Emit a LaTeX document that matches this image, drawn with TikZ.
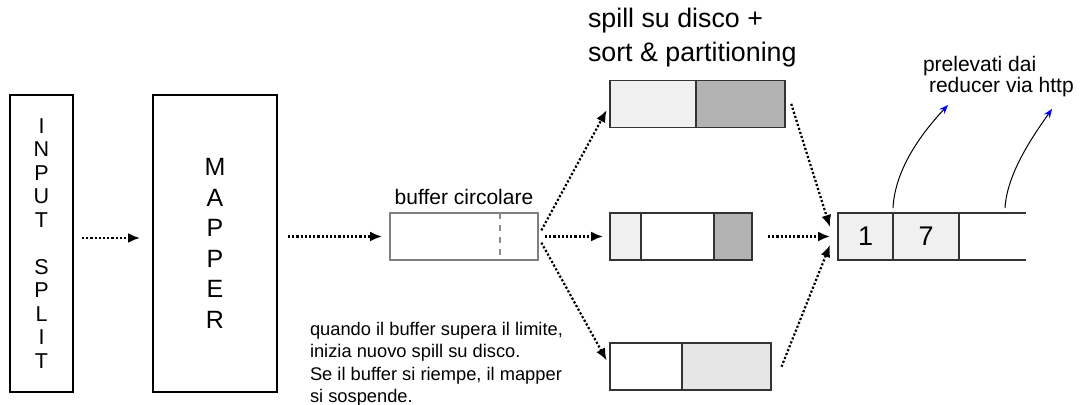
\documentclass[tikz,border=0pt]{standalone}
\usepackage{fontspec}
\setmainfont{Liberation Sans}
\usetikzlibrary{positioning,calc,arrows.meta}
\definecolor{cellpale}{HTML}{F0F0F0}
\definecolor{celldark}{HTML}{B3B3B3}
\definecolor{cellmid}{HTML}{E6E6E6}

\begin{document}
\begin{tikzpicture}[x=0.5pt,y=-0.5pt,
    box/.style={draw,line width=0.8pt,minimum height=148.5pt,inner sep=0pt,outer sep=0pt,align=center},
    cell/.style={draw=black!80,line width=0.75pt,minimum height=23.5pt,inner sep=0pt,outer sep=0pt},
    flow/.style={densely dotted,line width=1.1pt,-{Latex[length=6pt,width=5pt]}},
    fetch/.style={line width=0.5pt,-{Stealth[length=4.5pt,width=3.5pt,blue]}},
    txt/.style={inner sep=0pt,outer sep=0pt}]
                    \useasboundingbox (0,0) rectangle (1082,405);
                    \node[box,minimum width=31.5pt,font=\fontsize{10.75}{11.75}\selectfont] (split) at (41.5,243.5) {I\\N\\P\\U\\T\\~\\S\\P\\L\\I\\T};
                    \node[box,minimum width=62pt,font=\fontsize{12.5}{15.25}\selectfont] (mapper) at (215,243.5) {M\\A\\P\\P\\E\\R};
                    \node[cell,draw=black!50,minimum width=74pt] (buf) at (464,236.5) {};
                    \draw[black!45,dashed,line width=0.75pt] ($(buf.north west)+(110,0)$) coordinate (cut) -- (cut |- buf.south);
                    \node[txt,anchor=base,font=\fontsize{10.5}{12}\selectfont] (buflab) at ([yshift=4pt]buf.north) {buffer circolare};
                    \node[cell,fill=cellpale,minimum width=43pt,anchor=west] (s1a) at (610,104) {};
                    \node[cell,fill=celldark,minimum width=44.5pt,right=0pt of s1a] (s1b) {};
                    \node[cell,fill=cellpale,minimum width=15.5pt,anchor=west] (s2a) at (610,236.5) {};
                    \node[cell,fill=white,minimum width=36.5pt,right=0pt of s2a] (s2b) {};
                    \node[cell,fill=celldark,minimum width=19pt,right=0pt of s2b] (s2c) {};
                    \node[cell,fill=white,minimum width=36pt,anchor=west] (s3a) at (610,366.5) {};
                    \node[cell,fill=cellmid,minimum width=44.5pt,right=0pt of s3a] (s3b) {};
                    \node[txt,anchor=base west,font=\fontsize{13.4}{17}\selectfont] (spill1) at (588,28) {spill su disco +};
                    \node[txt,anchor=base west,font=\fontsize{13.4}{17}\selectfont] (spill2) at (588,62) {sort \& partitioning};
                    \node[cell,fill=cellpale,minimum width=27.5pt,anchor=west,font=\fontsize{13.5}{16}\selectfont] (o1) at (838,236.5) {1};
                    \node[cell,fill=cellpale,minimum width=33pt,right=0pt of o1,font=\fontsize{13.5}{16}\selectfont] (o2) {7};
                    \draw[draw=black!80,line width=0.75pt] (o2.north east) -- ++(67,0) coordinate (oend) (o2.south east) -- ++(67,0);
                    \node[txt,anchor=base west,font=\fontsize{10.5}{12}\selectfont] (fetch1) at (923,72) {prelevati dai};
                    \node[txt,anchor=base west,font=\fontsize{10.5}{12}\selectfont] (fetch2) at (929,93) {reducer via http};
                    \node[txt,anchor=north west,align=left,font=\fontsize{9.15}{11.2}\selectfont] (note) at (310,322) {quando il buffer supera il limite,\\inizia nuovo spill su disco.\\Se il buffer si riempe, il mapper\\si sospende.};
                    \draw[flow,shorten <=4.5pt,shorten >=6.5pt] ([yshift=2.75pt]split.east) -- ([yshift=2.75pt]mapper.west);
                    \draw[flow,shorten <=5.5pt,shorten >=4pt] (mapper.east |- buf.west) -- (buf.west);
                    \draw[flow,shorten <=3.5pt,shorten >=3.5pt] (buf.east) -- (s1a.west);
                    \draw[flow,shorten <=3.5pt,shorten >=3.5pt] (buf.east) -- (s2a.west);
                    \draw[flow,shorten <=3.5pt,shorten >=3.5pt] (buf.east) -- (s3a.west);
                    \draw[flow,shorten <=2pt] ([xshift=2.5pt,yshift=2pt]s1b.east) -- ([xshift=-4pt,yshift=4.75pt]o1.west);
                    \draw[flow,shorten <=8pt,shorten >=4pt] (s2c.east) -- (o1.west);
                    \draw[flow,shorten <=2pt] ([xshift=4.5pt,yshift=-2pt]s3b.east) -- ([xshift=-4pt,yshift=-4.25pt]o1.west);
                    \coordinate (up1) at (948,105);
                    \coordinate (up2) at (1052,109);
                    \draw[fetch] ([yshift=2.5pt]o1.north east) .. controls (895,170) and (920,135) .. (up1);
                    \draw[fetch] ($(oend)+(-21,-5)$) .. controls (1007,175) and (1030,140) .. (up2);
                \end{tikzpicture}
\end{document}
